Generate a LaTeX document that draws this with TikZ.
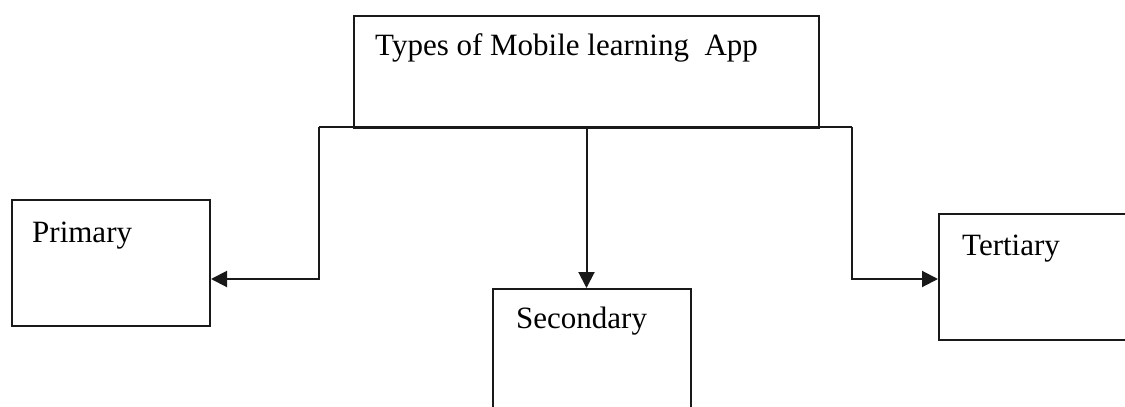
\documentclass[tikz,border=0pt]{standalone}
\usepackage{fontspec}
\setmainfont{Liberation Serif}
\usetikzlibrary{arrows.meta}
\begin{document}
\begin{tikzpicture}[x=1pt,y=-1pt,
  box/.style={draw=black!90, line width=2pt, inner sep=0pt, anchor=north west},
  lbl/.style={anchor=base west, inner sep=0pt, font=\fontsize{31}{37}\selectfont},
  conn/.style={draw=black!90, line width=2pt},
  arr/.style={conn, -{Triangle[length=16pt,width=16pt]}}]
\useasboundingbox (0,0) rectangle (1125,407);
\fill[white] (0,0) rectangle (1125,407);
% boxes
\node[box, minimum width=465pt, minimum height=112pt] (top) at (353,15) {};
\node[box, minimum width=198pt, minimum height=126pt] (prim) at (11,199) {};
\node[box, minimum width=198pt, minimum height=160pt] (sec) at (492,288) {};
\node[box, minimum width=230pt, minimum height=126pt] (tert) at (938,213) {};
% labels
\node[lbl] (toptxt) at (375,55) {Types of Mobile learning\ \ App};
\node[lbl] (primtxt) at (32,242) {Primary};
\node[lbl] (sectxt) at (516,328) {Secondary};
\node[lbl] (terttxt) at (962,255) {Tertiary};
% connectors
\coordinate (jl) at (319,127);
\coordinate (jr) at (852,127);
\draw[conn] (jl) -- (jr);
\draw[arr] (jl) |- ([yshift=-16pt]prim.east);
\draw[arr] (jr) |- ([yshift=-2pt]tert.west);
\draw[arr] (top.south) -- (top.south |- sec.north);
\end{tikzpicture}
\end{document}
